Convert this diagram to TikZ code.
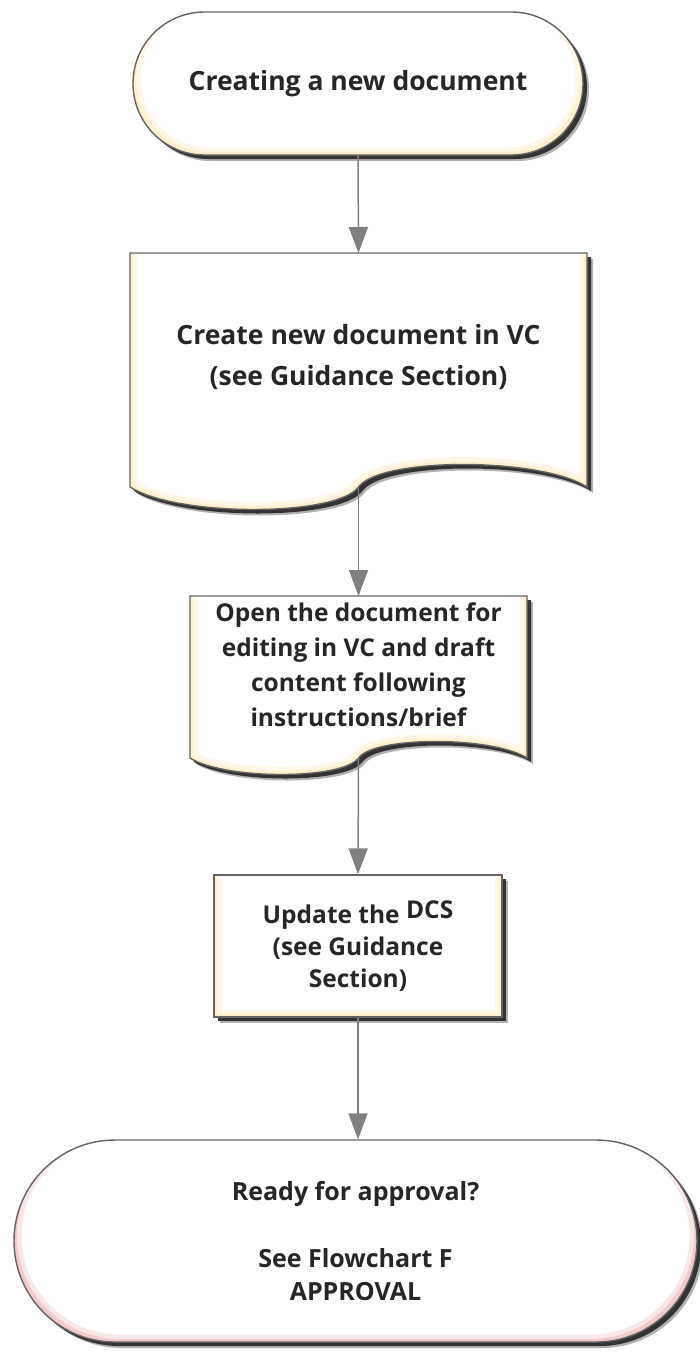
\documentclass[tikz,border=0pt]{standalone}
\usepackage{fontspec}
\setmainfont{Open Sans}
\usetikzlibrary{positioning,shadows,shapes.misc,arrows.meta}

\definecolor{edgegray}{RGB}{100,100,100}
\definecolor{arrowgray}{RGB}{128,128,128}
\definecolor{inkgray}{RGB}{38,38,38}
\definecolor{glowyellow}{RGB}{255,232,180}
\definecolor{glowpink}{RGB}{236,180,180}

% document shape: flat top, wavy bottom
\newcommand\docpath[4]{(#1.north west) -- (#1.north east) -- (#1.south east)
  .. controls +(-#2,-#4) and +(#3,-#4) .. (#1.south)
  .. controls +(-#3,#4) and +(#2,#4) .. (#1.south west) -- cycle}
\newcommand\docrim[4]{(#1.north east) -- (#1.south east)
  .. controls +(-#2,-#4) and +(#3,-#4) .. (#1.south)
  .. controls +(-#3,#4) and +(#2,#4) .. (#1.south west) -- (#1.north west)}

\begin{document}
\begin{tikzpicture}[
		x=1pt, y=-1pt,
		box/.style = {draw=edgegray, line width=1.4pt, fill=white,
			drop shadow={shadow xshift=6pt, shadow yshift=-6pt, fill=black, opacity=.3},
			drop shadow={shadow xshift=4pt, shadow yshift=-4pt, fill=black!85, opacity=.9}},
		glowpen/.style = {draw=#1, line width=6pt, draw opacity=.55,
			preaction={draw=#1, line width=15pt, draw opacity=.3}},
		term/.style = {box, rounded rectangle, inner sep=0pt, text=inkgray, align=center},
		proc/.style = {box, rectangle, inner sep=0pt, text=inkgray, align=center},
		docarea/.style = {inner sep=0pt, outer sep=0pt},
		txt/.style = {text=inkgray, align=center},
		flow/.style = {draw=arrowgray, line width=1.5pt, -{Triangle[length=26pt, width=19pt]}}
	]
	\useasboundingbox (0,0) rectangle (699,1352);

	% Start.
	\node[term, minimum width=450pt, minimum height=143pt,
		font=\fontsize{26.5}{36}\selectfont\bfseries,
		path picture={\draw[glowpen=glowyellow, rounded corners=76pt]
			([yshift=10pt]path picture bounding box.north west) rectangle (path picture bounding box.south east);}]
		(start) at (358,83.5) {Creating a new document};

	% Documents.
	\node[docarea, minimum width=457pt, minimum height=234pt] (doc1) at (358.5,370) {};
	\draw[box, path picture={\draw[glowpen=glowyellow] \docrim{doc1}{47}{22}{30};}] \docpath{doc1}{47}{22}{30};
	\node[txt, font=\fontsize{26.5}{41}\selectfont\bfseries] (doc1-text) at ([yshift=12.5pt]doc1.center)
		{Create new document in VC\\(see Guidance Section)};

	\node[docarea, minimum width=337pt, minimum height=162pt] (doc2) at (358.5,677) {};
	\draw[box, path picture={\draw[glowpen=glowyellow] \docrim{doc2}{35}{16}{22};}] \docpath{doc2}{35}{16}{22};
	\node[txt, font=\fontsize{24.5}{35}\selectfont\bfseries] (doc2-text) at ([yshift=12pt]doc2.center)
		{Open the document for\\editing in VC and draft\\content following\\instructions/brief};

	% Process.
	\node[proc, minimum width=288pt, minimum height=142pt,
		font=\fontsize{24.5}{32}\selectfont\bfseries,
		path picture={\draw[glowpen=glowyellow]
			([yshift=10pt]path picture bounding box.north west) rectangle (path picture bounding box.south east);}]
		(upd) at (358,946) {Update the \raisebox{5pt}{DCS}\\(see Guidance\\Section)};

	% End.
	\node[term, minimum width=683pt, minimum height=202pt,
		font=\fontsize{25}{33.5}\selectfont\bfseries,
		path picture={\draw[glowpen=glowpink, rounded corners=106pt]
			([yshift=10pt]path picture bounding box.north west) rectangle (path picture bounding box.south east);}]
		(finish) at (355.5,1241) {Ready for approval?\\[33.5pt]See Flowchart F\\APPROVAL};

	\draw[flow] (start.south) -- (doc1.north);
	\draw[flow] (doc1.south) -- (doc2.north);
	\draw[flow] (doc2.south) -- (upd.north);
	\draw[flow] (upd.south) -- (upd.south |- finish.north);
\end{tikzpicture}
\end{document}
